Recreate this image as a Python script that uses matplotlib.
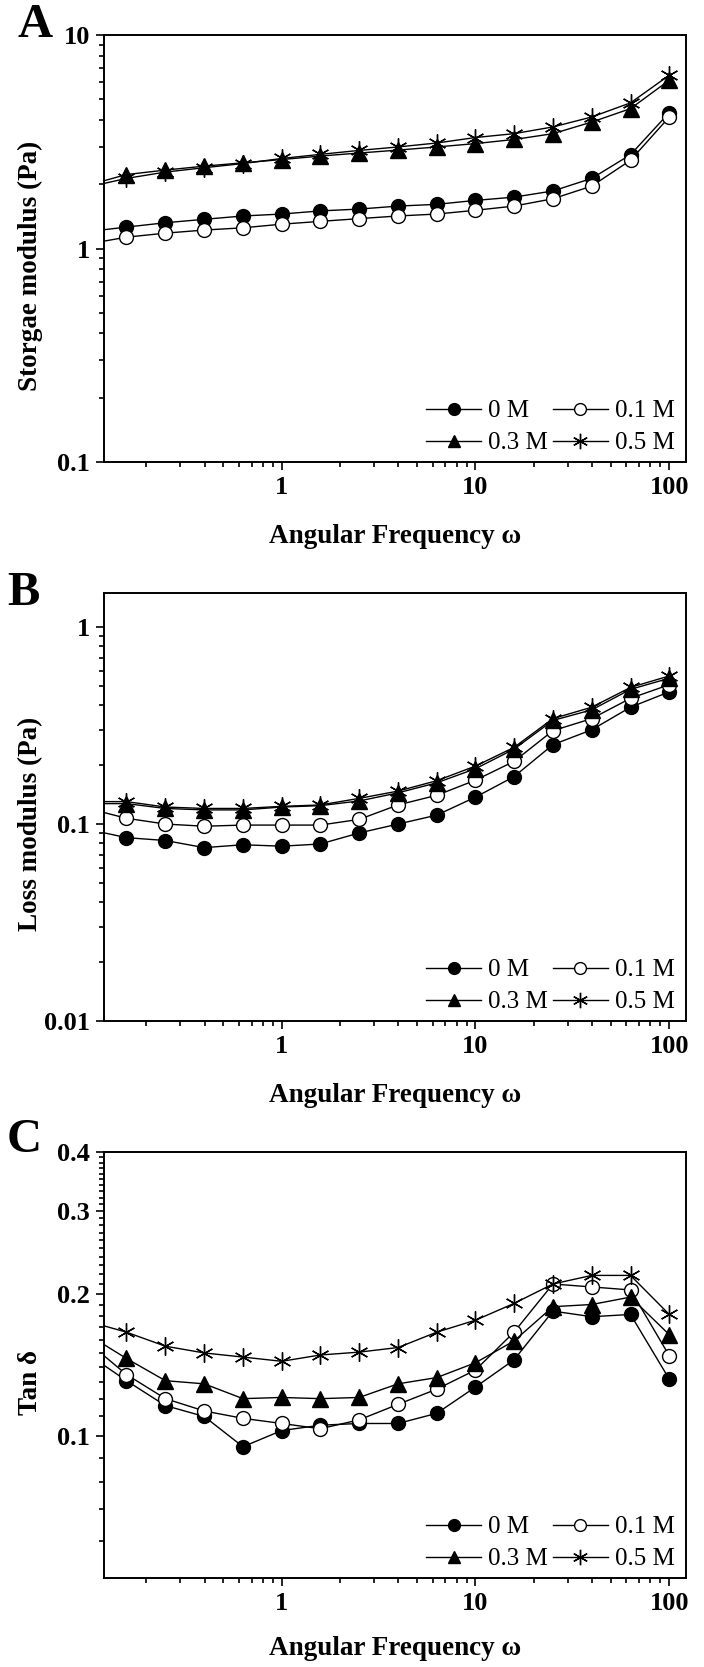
import matplotlib
matplotlib.use('Agg')
import matplotlib.pyplot as plt
from matplotlib.ticker import FixedLocator, FixedFormatter, NullFormatter

plt.rcParams['font.family'] = ['Liberation Serif', 'DejaVu Serif']

# angular frequency (rad/s)
freq = [0.1, 0.158, 0.251, 0.398, 0.631, 1, 1.58, 2.51, 3.98, 6.31, 10, 15.8, 25.1, 39.8, 63.1, 100]
series_names = ['0 M', '0.1 M', '0.3 M', '0.5 M']

# A: storage modulus (Pa)
g_0 = [1.20, 1.26, 1.32, 1.37, 1.42, 1.45, 1.50, 1.53, 1.58, 1.61, 1.68, 1.74, 1.86, 2.13, 2.75, 4.33]
g_01 = [1.05, 1.13, 1.18, 1.22, 1.25, 1.30, 1.34, 1.38, 1.42, 1.45, 1.51, 1.58, 1.71, 1.96, 2.59, 4.13]
g_03 = [1.98, 2.22, 2.33, 2.43, 2.52, 2.61, 2.71, 2.80, 2.89, 2.99, 3.10, 3.24, 3.45, 3.91, 4.52, 6.14]
g_05 = [1.94, 2.13, 2.28, 2.39, 2.50, 2.64, 2.76, 2.88, 2.99, 3.12, 3.31, 3.45, 3.71, 4.13, 4.81, 6.48]

# B: loss modulus (Pa)
l_0 = [0.094, 0.0853, 0.0825, 0.0759, 0.0785, 0.0772, 0.0792, 0.0901, 0.100, 0.111, 0.137, 0.174, 0.253, 0.301, 0.392, 0.469]
l_01 = [0.120, 0.107, 0.100, 0.0975, 0.0988, 0.0988, 0.0988, 0.1056, 0.125, 0.140, 0.167, 0.208, 0.298, 0.343, 0.435, 0.510]
l_03 = [0.127, 0.127, 0.120, 0.118, 0.118, 0.122, 0.124, 0.131, 0.144, 0.162, 0.191, 0.240, 0.336, 0.380, 0.483, 0.550]
l_05 = [0.130, 0.130, 0.122, 0.120, 0.120, 0.123, 0.125, 0.135, 0.147, 0.166, 0.197, 0.245, 0.343, 0.392, 0.494, 0.565]

# C: tan delta
t_0 = [0.149, 0.131, 0.116, 0.110, 0.0949, 0.1027, 0.1054, 0.1063, 0.1063, 0.1117, 0.127, 0.145, 0.184, 0.179, 0.181, 0.132]
t_01 = [0.158, 0.135, 0.120, 0.113, 0.109, 0.1063, 0.1036, 0.1082, 0.1167, 0.1257, 0.138, 0.166, 0.210, 0.207, 0.204, 0.148]
t_03 = [0.164, 0.146, 0.131, 0.129, 0.120, 0.1207, 0.120, 0.1207, 0.129, 0.133, 0.143, 0.159, 0.188, 0.190, 0.197, 0.164]
t_05 = [0.175, 0.166, 0.155, 0.150, 0.147, 0.144, 0.1485, 0.1506, 0.154, 0.166, 0.176, 0.191, 0.210, 0.219, 0.219, 0.181]

x_ticks = [1, 10, 100]
x_ticklabels = ['1', '10', '100']
x_minor = [k * 10.0 ** e for e in (-1, 0, 1) for k in range(2, 10)]

styles = [
    dict(marker='o', markersize=10, markerfacecolor='black'),
    dict(marker='o', markersize=10, markerfacecolor='white'),
    dict(marker='^', markersize=11, markerfacecolor='black'),
    dict(marker=(6, 2, 0), markersize=13, markerfacecolor='black'),
]

fig = plt.figure(figsize=(7.04, 16.67), dpi=100)
W, H = 704.0, 1667.0
left, right = 104, 686
# (top px, bottom px) for each panel
panel_px = [(35, 462), (593, 1021), (1152, 1578)]


def setup_axis(ax, ylim, yticks, ylabels, yminor, ylabel, ylab_y, xlab_y=-0.146):
    ax.set_xscale('log')
    ax.set_yscale('log')
    ax.set_xlim(0.121, 122)
    ax.set_ylim(*ylim)
    ax.xaxis.set_major_locator(FixedLocator(x_ticks))
    ax.xaxis.set_major_formatter(FixedFormatter(x_ticklabels))
    ax.xaxis.set_minor_locator(FixedLocator(x_minor))
    ax.xaxis.set_minor_formatter(NullFormatter())
    ax.yaxis.set_major_locator(FixedLocator(yticks))
    ax.yaxis.set_major_formatter(FixedFormatter(ylabels))
    ax.yaxis.set_minor_locator(FixedLocator(yminor))
    ax.yaxis.set_minor_formatter(NullFormatter())
    ax.tick_params(which='both', direction='out', top=False, right=False, width=1.2)
    ax.tick_params(which='major', length=6, labelsize=19, pad=4)
    ax.tick_params(which='minor', length=3.5)
    for lab in ax.get_xticklabels() + ax.get_yticklabels():
        lab.set_fontweight('bold')
    for sp in ax.spines.values():
        sp.set_linewidth(1.4)
    ax.set_xlabel('Angular Frequency ω', fontsize=19.5, fontweight='bold')
    ax.set_ylabel(ylabel, fontsize=19.5, fontweight='bold')
    ax.xaxis.set_label_coords(0.5, xlab_y)
    ax.yaxis.set_label_coords(-0.105, ylab_y)


def draw(ax, data):
    lines = []
    for ys, st in zip(data, styles):
        ln, = ax.plot(freq, ys, color='black', linewidth=1.0,
                      markeredgecolor='black', markeredgewidth=1.0, **st)
        lines.append(ln)
    # column-wise fill: row1 = 0 M, 0.1 M ; row2 = 0.3 M, 0.5 M
    order = [0, 2, 1, 3]
    ax.legend([lines[i] for i in order], [series_names[i] for i in order],
              ncol=2, loc='lower right', bbox_to_anchor=(0.985, 0.012),
              frameon=False, fontsize=18, handlelength=2.2, handletextpad=0.28,
              columnspacing=0.2, labelspacing=0.38, borderpad=0.1,
              borderaxespad=0, markerscale=0.85)


axes = []
for top, bot in panel_px:
    ax = fig.add_axes([left / W, 1 - bot / H, (right - left) / W, (bot - top) / H])
    axes.append(ax)

dec_minor = lambda lo, hi: [k * 10.0 ** e for e in range(lo, hi) for k in range(2, 10)]

draw(axes[0], [g_0, g_01, g_03, g_05])
setup_axis(axes[0], (0.1, 10), [0.1, 1, 10], ['0.1', '1', '10'], dec_minor(-1, 1),
           'Storgae modulus (Pa)', 0.46)

draw(axes[1], [l_0, l_01, l_03, l_05])
setup_axis(axes[1], (0.01, 1.49), [0.01, 0.1, 1], ['0.01', '0.1', '1'], dec_minor(-2, 0),
           'Loss modulus (Pa)', 0.46)

c_minor = [0.06, 0.07, 0.08, 0.09] + [round(0.1 + 0.01 * k, 2) for k in range(1, 30) if k % 10]
draw(axes[2], [t_0, t_01, t_03, t_05])
setup_axis(axes[2], (0.05, 0.4), [0.1, 0.2, 0.3, 0.4], ['0.1', '0.2', '0.3', '0.4'], c_minor,
           'Tan δ', 0.46, xlab_y=-0.135)

fig.text(18 / W, 1 - 37 / H, 'A', fontsize=35, fontweight='bold', va='baseline')
fig.text(7 / W, 1 - 605 / H, 'B', fontsize=35, fontweight='bold', va='baseline')
fig.text(7 / W, 1 - 1152 / H, 'C', fontsize=35, fontweight='bold', va='baseline')

fig.savefig('out.png', dpi=100)
